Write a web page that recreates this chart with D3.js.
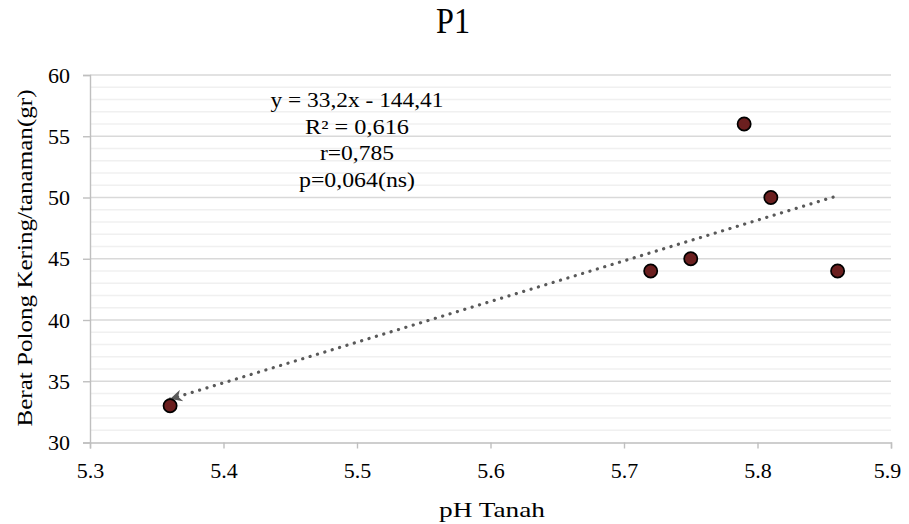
<!DOCTYPE html>
<html lang="en">
<head>
<meta charset="UTF-8" />
<title>P1</title>
<style>
  body { margin: 0; background: #fff; }
  svg text { font-family: "Liberation Serif"; }
</style>
</head>
<body>
<svg id="chart"></svg>
<script src="https://cdnjs.cloudflare.com/ajax/libs/d3/7.8.5/d3.min.js"></script>
<script>
const phTanah = [5.36, 5.72, 5.75, 5.79, 5.81, 5.86];
const beratPolong = [33, 44, 45, 56, 50, 44];
const xTicks = [5.3, 5.4, 5.5, 5.6, 5.7, 5.8, 5.9];
const yTicks = [30, 35, 40, 45, 50, 55, 60];
const slope = 33.2, intercept = -144.41;
const notes = ["y = 33,2x - 144,41", "R² = 0,616", "r=0,785", "p=0,064(ns)"];
const noteWidths = [173, 104, 74, 116];

const W = 909, H = 524;
const m = { left: 90, right: 18, top: 75, bottom: 81.5 };

const svg = d3.select("#chart").attr("width", W).attr("height", H);

const x = d3.scaleLinear().domain([5.3, 5.9]).range([m.left, W - m.right]);
const y = d3.scaleLinear().domain([30, 60]).range([H - m.bottom, m.top]);

// minor grid
svg.append("g").selectAll("line")
  .data(d3.range(31, 60).filter(v => v % 5 !== 0))
  .join("line")
  .attr("x1", m.left).attr("x2", W - m.right)
  .attr("y1", d => y(d)).attr("y2", d => y(d))
  .attr("stroke", "#f0f0f0").attr("stroke-width", 1.4);

// major grid
svg.append("g").selectAll("line")
  .data(yTicks.slice(1))
  .join("line")
  .attr("x1", m.left).attr("x2", W - m.right)
  .attr("y1", d => y(d)).attr("y2", d => y(d))
  .attr("stroke", "#d9d9d9").attr("stroke-width", 1.4);

// axes
const xAxis = svg.append("g")
  .attr("transform", `translate(0,${H - m.bottom})`)
  .call(d3.axisBottom(x).tickValues(xTicks).tickFormat(d3.format(".1f")).tickSize(6).tickPadding(14));
const yAxis = svg.append("g")
  .attr("transform", `translate(${m.left},0)`)
  .call(d3.axisLeft(y).tickValues(yTicks).tickSize(7).tickPadding(13));
[xAxis, yAxis].forEach(a => {
  a.attr("font-family", null).attr("font-size", 22);
  a.select(".domain").attr("stroke", "#bfbfbf").attr("stroke-width", 1.4);
  a.selectAll(".tick line").attr("stroke", "#bfbfbf").attr("stroke-width", 1.4);
  a.selectAll(".tick text").attr("fill", "#000");
});
// last x label is pulled in a little, as in the original
xAxis.selectAll(".tick text").filter(d => d === 5.9).attr("x", -4);

// trendline with arrow at the left end
svg.append("defs").append("marker")
  .attr("id", "arr").attr("viewBox", "0 0 10 10")
  .attr("refX", 10).attr("refY", 5)
  .attr("markerUnits", "userSpaceOnUse")
  .attr("markerWidth", 13).attr("markerHeight", 12)
  .attr("orient", "auto-start-reverse")
  .append("path").attr("d", "M0,0 L10,5 L0,10 L3,5 Z").attr("fill", "#595959");

const xs = [d3.min(phTanah), d3.max(phTanah)];
svg.append("line")
  .attr("x1", x(xs[0])).attr("y1", y(slope * xs[0] + intercept))
  .attr("x2", x(xs[1])).attr("y2", y(slope * xs[1] + intercept))
  .attr("stroke", "#595959").attr("stroke-width", 3.2)
  .attr("stroke-linecap", "round").attr("stroke-dasharray", "0.1 7.6")
  .attr("marker-start", "url(#arr)");

// points
svg.append("g").selectAll("circle")
  .data(phTanah.map((v, i) => [v, beratPolong[i]]))
  .join("circle")
  .attr("cx", d => x(d[0])).attr("cy", d => y(d[1]))
  .attr("r", 6.6)
  .attr("fill", "#6b1f1f").attr("stroke", "#000").attr("stroke-width", 1.7);

// annotation
svg.append("g").selectAll("text")
  .data(notes)
  .join("text")
  .attr("x", 357).attr("y", (d, i) => 107 + i * 26.5)
  .attr("text-anchor", "middle").attr("font-size", 20).attr("fill", "#000")
  .attr("textLength", (d, i) => noteWidths[i]).attr("lengthAdjust", "spacingAndGlyphs")
  .text(d => d);

// title and axis titles
svg.append("text").attr("x", 453).attr("y", 33)
  .attr("text-anchor", "middle").attr("font-size", 35)
  .attr("textLength", 34).attr("lengthAdjust", "spacingAndGlyphs").text("P1");
svg.append("text").attr("x", 492).attr("y", 517)
  .attr("text-anchor", "middle").attr("font-size", 21)
  .attr("textLength", 106).attr("lengthAdjust", "spacingAndGlyphs").text("pH Tanah");
svg.append("text")
  .attr("transform", `translate(32,258) rotate(-90)`)
  .attr("text-anchor", "middle").attr("font-size", 22)
  .attr("textLength", 337).attr("lengthAdjust", "spacingAndGlyphs")
  .text("Berat Polong Kering/tanaman(gr)");
</script>
</body>
</html>
